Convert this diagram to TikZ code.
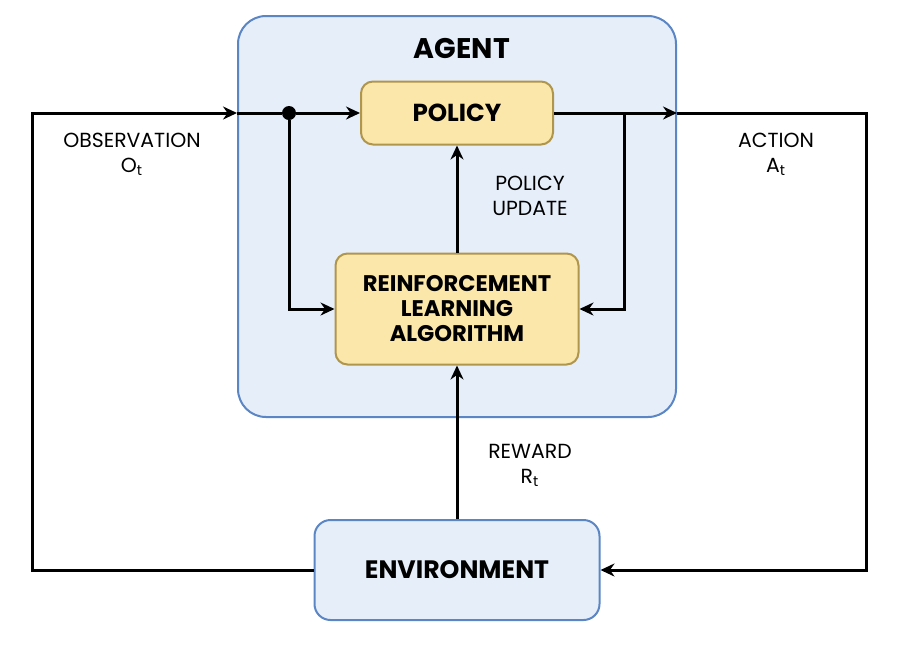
\documentclass[tikz,border=0pt]{standalone}
\usepackage{fontspec}
\setmainfont{Poppins}
\usetikzlibrary{calc,positioning,arrows.meta}
\definecolor{agentfill}{HTML}{E6EEF9}
\definecolor{agentline}{HTML}{5B86C5}
\definecolor{boxfill}{HTML}{FBE7A9}
\definecolor{boxline}{HTML}{B0954C}
\tikzset{
  wire/.style={line width=1.5pt, line join=miter},
  flow/.style={wire, -{Stealth[length=7pt, width=6.5pt]}},
  outerbox/.style={draw=agentline, fill=agentfill, line width=1pt, rounded corners=14pt},
  yellowbox/.style={draw=boxline, fill=boxfill, line width=1pt, rounded corners=6pt, align=center,
    font=\fontsize{11.3}{12.5}\selectfont\bfseries},
  envbox/.style={draw=agentline, fill=agentfill, line width=1pt, rounded corners=8pt,
    font=\fontsize{12.6}{14}\selectfont\bfseries},
  bdot/.style={circle, fill=black, inner sep=0pt, minimum size=7pt},
  lbl/.style={align=center, inner sep=0pt, font=\fontsize{10.2}{12.5}\selectfont}
}
\begin{document}
\begin{tikzpicture}[x=0.5pt,y=-0.5pt]
  \useasboundingbox (0,0) rectangle (900,650);
  \node[outerbox, minimum width=219pt, minimum height=200.5pt] (agent) at (457,216.5) {};
  \node[font=\fontsize{14.2}{15}\selectfont\bfseries] (agentlbl) at (462,48) {AGENT};
  \node[yellowbox, font=\fontsize{12.3}{14}\selectfont\bfseries, minimum width=96pt, minimum height=31.5pt]
    (policy) at (457,113) {POLICY};
  \node[yellowbox, minimum width=121.5pt, minimum height=55.5pt] (rlalg) at (457,309)
    {REINFORCEMENT\\LEARNING\\ALGORITHM};
  \node[envbox, minimum width=142.5pt, minimum height=50pt] (env) at (457,570) {ENVIRONMENT};
  \node[bdot] (dot) at (289,113) {};
  \coordinate (obscorner) at (32,113);
  \coordinate (actcorner) at (866,113);
  \coordinate (split) at (624,113);

  \draw[flow] (env.west) -| (obscorner) -- (agent.west |- obscorner);
  \draw[wire] (agent.west |- obscorner) -- (dot);
  \draw[flow] (dot) -- (policy.west);
  \draw[flow] (dot) |- (rlalg.west);
  \draw[flow] (policy.east) -- (agent.east |- policy.east);
  \draw[flow] (agent.east |- policy.east) -- (actcorner) |- (env.east);
  \draw[flow] (split) |- (rlalg.east);
  \draw[flow] (rlalg.north) -- (policy.south);
  \draw[flow] (env.north) -- (rlalg.south);

  \node[lbl] (obslbl) at (132,154) {OBSERVATION\\O\textsubscript{t}};
  \node[lbl] (actlbl) at (776,154) {ACTION\\A\textsubscript{t}};
  \node[lbl] (updlbl) at (530,196) {POLICY\\UPDATE};
  \node[lbl] (rewlbl) at (530,465) {REWARD\\R\textsubscript{t}};
\end{tikzpicture}
\end{document}
